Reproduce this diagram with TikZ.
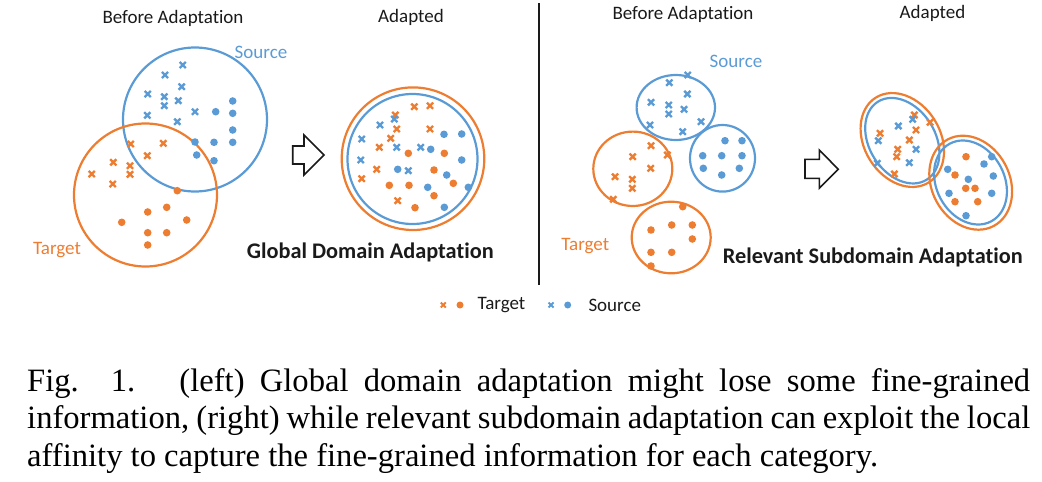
\documentclass[tikz,border=0pt]{standalone}
\usepackage{fontspec}
\setmainfont{Carlito}[Ligatures=NoCommon]
\newfontfamily\capfont{Liberation Serif}
\definecolor{ocol}{HTML}{ED7D31}
\definecolor{bcol}{HTML}{5B9BD5}
\definecolor{ink}{HTML}{1A1A1A}
\begin{document}
\begin{tikzpicture}[x=1pt,y=-1pt,
  lbl/.style={inner sep=0pt, font=\fontsize{19}{22}\selectfont, text=ink},
  ttl/.style={inner sep=0pt, font=\fontsize{22.3}{26}\selectfont\bfseries, text=ink},
  captext/.style={inner sep=0pt, anchor=base west, font=\capfont\fontsize{32.6}{38}\selectfont, text=black},
  oring/.style={draw=ocol, line width=2.2pt},
  bring/.style={draw=bcol, line width=2.2pt},
  ox/.style={draw=ocol, line width=2.4pt},
  bx/.style={draw=bcol, line width=2.4pt},
  hollow/.style={draw=ink, line width=1.6pt, line join=miter}
]
\useasboundingbox (0,0) rectangle (1042,482);

% ---------- titles ----------
\node[lbl] (tbl) at (173,18) {Before Adaptation};
\node[lbl] (tal) at (411,17) {Adapted};
\node[lbl] (tbr) at (683,14) {Before Adaptation};
\node[lbl] (tar) at (932.5,13) {Adapted};

% ---------- divider ----------
\coordinate (dtop) at (539.3,3);
\coordinate (dbot) at (539.3,285);
\draw[ink, line width=2pt] (dtop) -- (dbot);

% ---------- left: before ----------
\draw[bring] (195,119.5) circle (72);
\draw[oring] (145.5,195) circle (71.5);
\node[lbl, text=bcol] (srcL) at (261,52) {Source};
\node[lbl, text=ocol] (tgtL) at (57,250) {Target};
\foreach \x/\y in {182.7/65, 165/75, 181.7/86.7, 147.7/94, 164.3/96.7, 164.3/105.7, 178.3/100.7, 195/111.7, 147.3/115.3, 177.3/121.7}
  \draw[bx] (\x-3.1,\y-3.1) -- (\x+3.1,\y+3.1) (\x-3.1,\y+3.1) -- (\x+3.1,\y-3.1);
\foreach \x/\y in {232.7/101, 215.7/111.7, 232.7/113.3, 232.7/130, 195/142, 214/142.3, 232.7/142.3, 196.7/155, 214/160.7}
  \fill[bcol] (\x,\y) circle (3.8);
\foreach \x/\y in {130.7/144, 163.3/143.3, 147.3/155.7, 113.3/162.3, 130/165.7, 130/174.3, 91.7/174, 112.7/184}
  \draw[ox] (\x-3.1,\y-3.1) -- (\x+3.1,\y+3.1) (\x-3.1,\y+3.1) -- (\x+3.1,\y-3.1);
\foreach \x/\y in {177.3/190.7, 166.7/207.3, 147.7/212, 186.7/220, 121.7/222.3, 147.7/232.7, 166.7/232.7, 147.7/245}
  \fill[ocol] (\x,\y) circle (3.8);

% arrow left
\draw[hollow] (292.7,146) -- (304,146) -- (304,135) -- (324,155) -- (304,175) -- (304,164) -- (292.7,164) -- cycle;

% ---------- left: adapted ----------
\draw[oring] (413,158.7) circle (71.3);
\draw[bring] (412.5,159) circle (65);
\foreach \x/\y in {414.3/106.7, 430/105.7, 395.3/115, 396.7/129, 430/129, 390.7/138.3, 379.3/147.3, 376.7/169.3, 361.7/178.7, 397.7/200.7}
  \draw[ox] (\x-3.1,\y-3.1) -- (\x+3.1,\y+3.1) (\x-3.1,\y+3.1) -- (\x+3.1,\y-3.1);
\foreach \x/\y in {394.3/119, 380/125, 361.7/139, 396.7/147.3, 420.7/147.3, 360.7/160, 408.3/170.7}
  \draw[bx] (\x-3.1,\y-3.1) -- (\x+3.1,\y+3.1) (\x-3.1,\y+3.1) -- (\x+3.1,\y-3.1);
\foreach \x/\y in {408.3/153.3, 444.3/153.3, 434/170, 389.3/185.3, 409/185.3, 453.3/183.3, 434/195.7, 415/207.7}
  \fill[ocol] (\x,\y) circle (3.8);
\foreach \x/\y in {444/134.3, 461.7/134, 430.7/149.3, 461.7/160, 397.7/169.3, 446.7/175, 427.7/187.3, 468.3/187.3, 444.3/207.3}
  \fill[bcol] (\x,\y) circle (3.8);
\node[ttl, anchor=west] (gda) at (246.7,252.5) {Global Domain Adaptation};

% ---------- right: before ----------
\draw[bring] (675.8,107.5) ellipse [x radius=39.2, y radius=32.5];
\draw[bring] (722.5,158.3) ellipse [x radius=32.5, y radius=33.3];
\draw[oring] (632.8,168.8) ellipse [x radius=39.5, y radius=37.2];
\draw[oring] (671.2,237.5) ellipse [x radius=39.5, y radius=35.8];
\node[lbl, text=bcol] (srcR) at (736,61) {Source};
\node[lbl, text=ocol] (tgtR) at (585.3,245.7) {Target};
\foreach \x/\y in {687.7/75, 669.3/82.7, 687.3/94, 651/102.3, 668.7/105, 668.7/114, 684/109.3, 701/121.7, 650/125, 682.7/131.7}
  \draw[bx] (\x-3.1,\y-3.1) -- (\x+3.1,\y+3.1) (\x-3.1,\y+3.1) -- (\x+3.1,\y-3.1);
\foreach \x/\y in {725/140.7, 742/140.7, 702.7/155.7, 721.7/155.7, 742/155.7, 703.3/168.3, 739.3/168.3, 721.7/175}
  \fill[bcol] (\x,\y) circle (3.8);
\foreach \x/\y in {651/145.7, 632.7/156.7, 667.3/155, 650.7/168.3, 615/176.7, 632.3/179.3, 632.3/188.3, 613.3/199.3}
  \draw[ox] (\x-3.1,\y-3.1) -- (\x+3.1,\y+3.1) (\x-3.1,\y+3.1) -- (\x+3.1,\y-3.1);
\foreach \x/\y in {682.7/206.7, 651/230, 671.7/225, 692.3/225, 692.3/239, 651/252.3, 671.7/252.3, 651/266}
  \fill[ocol] (\x,\y) circle (3.8);

% arrow right
\draw[hollow] (805,159.3) -- (819.3,159.3) -- (819.3,150) -- (838.3,169.3) -- (819.3,188.3) -- (819.3,178.3) -- (805,178.3) -- cycle;

% ---------- right: adapted ----------
\draw[oring, rotate around={-58:(902.3,140)}] (902.3,140) ellipse [x radius=50, y radius=38];
\draw[bring, rotate around={-58:(902.3,140.7)}] (902.3,140.7) ellipse [x radius=46, y radius=33];
\draw[oring, rotate around={-62:(970.7,182.7)}] (970.7,182.7) ellipse [x radius=49, y radius=39];
\draw[bring, rotate around={-62:(970.5,182.5)}] (970.5,182.5) ellipse [x radius=44, y radius=34];
\foreach \x/\y in {914.3/115, 930/122.3, 916/130, 880/133.3, 909.3/140, 897.7/149.3, 896.7/156.7, 894.3/174}
  \draw[ox] (\x-3.1,\y-3.1) -- (\x+3.1,\y+3.1) (\x-3.1,\y+3.1) -- (\x+3.1,\y-3.1);
\foreach \x/\y in {912.7/119.3, 898.3/126, 878.3/140.7, 916/149.3, 909.3/162.7, 877.3/163.3}
  \draw[bx] (\x-3.1,\y-3.1) -- (\x+3.1,\y+3.1) (\x-3.1,\y+3.1) -- (\x+3.1,\y-3.1);
\foreach \x/\y in {966/156.7, 955/175, 965.7/188.3, 975/188.3, 955/201.7, 977.7/201.7}
  \fill[ocol] (\x,\y) circle (3.8);
\foreach \x/\y in {991.7/156.7, 984/164, 947.7/169.3, 968.3/179.3, 993.3/176, 949/193.3, 991.7/193.3, 966/215.7}
  \fill[bcol] (\x,\y) circle (3.8);
\node[ttl, anchor=west] (rsa) at (722.7,257.3) {Relevant Subdomain Adaptation};

% ---------- legend ----------
\draw[ox, line width=1.9pt] (440.8,302.5) -- (445.8,307.5) (440.8,307.5) -- (445.8,302.5);
\fill[ocol] (460,305) circle (3.5);
\node[lbl, anchor=west] (legT) at (477.3,305) {Target};
\draw[bx, line width=1.9pt] (548.5,302.5) -- (553.5,307.5) (548.5,307.5) -- (553.5,302.5);
\fill[bcol] (567.7,305) circle (3.5);
\node[lbl, anchor=west] (legS) at (588.3,305) {Source};

% ---------- caption ----------
\node[captext] (c1) at (27,391.5) {\makebox[1003pt][s]{Fig. 1.\hspace{12pt} (left) Global domain adaptation might lose some fine-grained}};
\node[captext] (c2) at (27,428.8) {\makebox[1003pt][s]{information, (right) while relevant subdomain adaptation can exploit the local}};
\node[captext] (c3) at (27,466) {affinity to capture the fine-grained information for each category.};
\end{tikzpicture}
\end{document}
